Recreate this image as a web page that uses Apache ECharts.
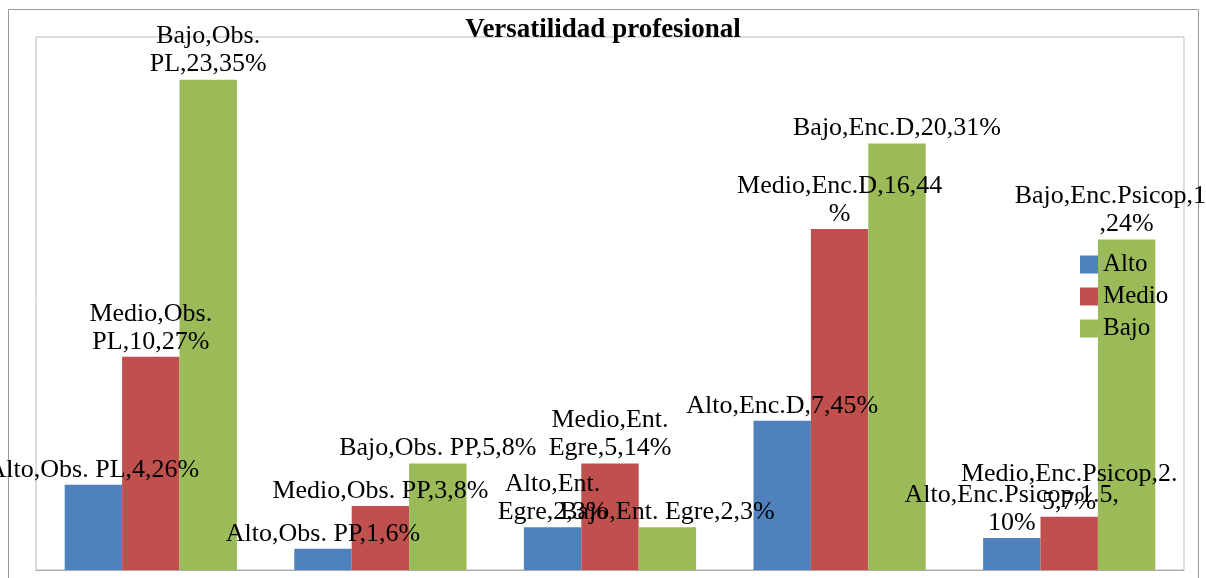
<!DOCTYPE html>
<html>
<head>
<meta charset="utf-8">
<script src="https://cdn.jsdelivr.net/npm/echarts@6/dist/echarts.min.js"></script>
<style>
html,body{margin:0;padding:0;background:#fff;}
#chart{width:1206px;height:578px;}
</style>
</head>
<body>
<div id="chart"></div>
<script>
const titleText = "Versatilidad profesional";
const categories = ["Obs. PL", "Obs. PP", "Ent. Egre", "Enc.D", "Enc.Psicop"];
const seriesNames = ["Alto", "Medio", "Bajo"];
const altoValues = [4, 1, 2, 7, 1.5];
const medioValues = [10, 3, 5, 16, 2.5];
const bajoValues = [23, 5, 2, 20, 15.5];
const altoLabels = ["Alto,Obs. PL,4,26%", "Alto,Obs. PP,1,6%", "Alto,Ent.\nEgre,2,3%", "Alto,Enc.D,7,45%", "Alto,Enc.Psicop,1.5,\n10%"];
const medioLabels = ["Medio,Obs.\nPL,10,27%", "Medio,Obs. PP,3,8%", "Medio,Ent.\nEgre,5,14%", "Medio,Enc.D,16,44\n%", "Medio,Enc.Psicop,2.\n5,7%"];
const bajoLabels = ["Bajo,Obs.\nPL,23,35%", "Bajo,Obs. PP,5,8%", "Bajo,Ent. Egre,2,3%", "Bajo,Enc.D,20,31%", "Bajo,Enc.Psicop,15.5\n,24%"];
const colors = ["#4F81BD", "#C0504D", "#9BBB59"];

const valueSets = [altoValues, medioValues, bajoValues];
const labelSets = [altoLabels, medioLabels, bajoLabels];
const serif = "'Liberation Serif', 'DejaVu Serif', serif";

const chart = echarts.init(document.getElementById('chart'), null, {renderer: 'canvas'});
chart.setOption({
  animation: false,
  backgroundColor: '#fff',
  color: colors,
  title: {
    text: titleText,
    left: 'center',
    top: 17,
    padding: 0,
    textStyle: {fontFamily: serif, fontWeight: 'bold', fontSize: 27, color: '#000'}
  },
  legend: {
    orient: 'vertical',
    left: 1080,
    top: 252,
    itemWidth: 18,
    itemHeight: 18,
    itemGap: 7,
    icon: 'rect',
    padding: 0,
    data: seriesNames,
    textStyle: {fontFamily: serif, fontSize: 25, color: '#000', lineHeight: 18}
  },
  graphic: [{
    type: 'rect',
    shape: {x: 8.5, y: 9.5, width: 1190, height: 600},
    style: {fill: 'none', stroke: '#999', lineWidth: 1},
    silent: true, z: 0
  }],
  grid: {
    left: 36, right: 22, top: 37, bottom: 8,
    show: true, borderColor: '#bbb', borderWidth: 1, backgroundColor: 'transparent'
  },
  xAxis: {
    type: 'category',
    data: categories,
    axisLine: {show: true, lineStyle: {color: '#aaa'}},
    axisTick: {show: false},
    axisLabel: {show: false},
    splitLine: {show: false}
  },
  yAxis: {
    type: 'value', min: 0, max: 25,
    axisLine: {show: false}, axisTick: {show: false}, axisLabel: {show: false},
    splitLine: {show: false}
  },
  series: seriesNames.map((name, i) => ({
    name: name,
    type: 'bar',
    barGap: '0%',
    barCategoryGap: '25%',
    data: valueSets[i],
    label: {
      show: true,
      position: 'top',
      distance: 1,
      fontFamily: serif,
      fontSize: 26,
      lineHeight: 28,
      color: '#000',
      formatter: (p) => labelSets[i][p.dataIndex]
    }
  }))
});
</script>
</body>
</html>
